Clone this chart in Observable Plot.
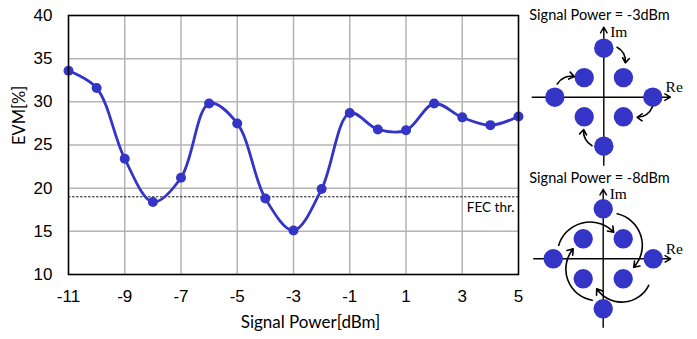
<!DOCTYPE html>
<html><head><meta charset="utf-8">
<script src="https://cdn.jsdelivr.net/npm/d3@7"></script>
<script src="https://cdn.jsdelivr.net/npm/@observablehq/plot@0.6"></script>
<style>
body{margin:0;background:#fff}
#chart{position:relative;width:697px;height:339px;overflow:hidden;background:#fff}
#chart svg{position:absolute}
</style>
</head><body><div id="chart"></div>
<script>
// ---- data ----
const power = [-11,-10,-9,-8,-7,-6,-5,-4,-3,-2,-1,0,1,2,3,4,5];
const evm = [33.6,31.6,23.4,18.4,21.2,29.8,27.5,18.8,15.1,19.9,28.7,26.8,26.7,29.8,28.2,27.3,28.3];
const fecThreshold = 19;
const fecLabel = "FEC thr.";
const xTicks = [-11,-9,-7,-5,-3,-1,1,3,5];
const yTicks = [10,15,20,25,30,35,40];
const xLabel = "Signal Power[dBm]";
const yLabel = "EVM[%]";

// constellation (8 points: 4 outer on axes, 4 inner)
const constRe = [0, 0.4, 1, 0.4, 0, -0.4, -1, -0.4];
const constIm = [1, 0.4, 0, -0.4, -1, -0.4, 0, 0.4];
const title1 = "Signal Power = -3dBm";
const title2 = "Signal Power = -8dBm";
// rotation arrows (from -> to), in constellation units
const arrows1 = [
  {x1:0.27,y1:1.02,x2:0.44,y2:0.70},
  {x1:-0.95,y1:0.27,x2:-0.60,y2:0.42},
  {x1:0.99,y1:-0.20,x2:0.68,y2:-0.41},
  {x1:-0.24,y1:-0.99,x2:-0.41,y2:-0.66}
];
const arrows2 = [
  {x1:0.28,y1:0.90,x2:0.61,y2:-0.17},
  {x1:0.91,y1:-0.53,x2:-0.13,y2:-0.60},
  {x1:-0.22,y1:-0.83,x2:-0.60,y2:0.20},
  {x1:-0.89,y1:0.27,x2:0.21,y2:0.53}
];

const blue = "#3434c6";
const calibri = "Lato, 'Open Sans', sans-serif";
const fmt = d => String(d); // plain hyphen-minus like the original

// ---- main chart ----
const data = power.map((p, i) => ({power: p, evm: evm[i]}));
const main = Plot.plot({
  width: 530, height: 339,
  marginLeft: 68, marginRight: 12, marginTop: 15, marginBottom: 65,
  style: {fontFamily: "'Liberation Sans', Arial, sans-serif", fontSize: "17px", background: "transparent", overflow: "visible", color: "#000"},
  x: {domain: [-11, 5]},
  y: {domain: [10, 40]},
  marks: [
    Plot.gridX(xTicks, {stroke: "#b4b4b4", strokeOpacity: 1, strokeWidth: 1.5}),
    Plot.gridY(yTicks, {stroke: "#b4b4b4", strokeOpacity: 1, strokeWidth: 1.5}),
    Plot.ruleY([fecThreshold], {stroke: "#000", strokeWidth: 0.9, strokeDasharray: "2.5,1.5"}),
    Plot.line(data, {x: "power", y: "evm", curve: "catmull-rom", stroke: blue, strokeWidth: 2.8}),
    Plot.dot(data, {x: "power", y: "evm", r: 5, fill: blue}),
    Plot.frame({stroke: "#000", strokeWidth: 1.5}),
    Plot.axisX(xTicks, {tickSize: 0, tickPadding: 15, label: null, fill: "#000", tickFormat: fmt}),
    Plot.axisY(yTicks, {tickSize: 0, tickPadding: 16, label: null, fill: "#000", tickFormat: fmt}),
    Plot.text([fecLabel], {frameAnchor: "right", y: () => fecThreshold, textAnchor: "end", dx: -4, dy: 11, fontFamily: calibri, fontSize: 13.5, fill: "#000"}),
    Plot.text([yLabel], {frameAnchor: "left", rotate: -90, dx: -49, fontFamily: calibri, fontSize: 16.5, fill: "#000"}),
    Plot.text([xLabel], {frameAnchor: "bottom", lineAnchor: "middle", dx: 17, dy: 48, fontFamily: calibri, fontSize: 17, fill: "#000"})
  ]
});
main.style.left = "0px"; main.style.top = "0px";
document.getElementById("chart").appendChild(main);

// ---- constellation diagrams ----
const points = constRe.map((re, i) => ({re, im: constIm[i]}));
function constellation(title, arrows, bend, top, cx, cy, unit, axes, titleDy) {
  const W = 170, H = 170, left = 527;
  const x0 = cx - left, y0 = cy - top;
  const svg = Plot.plot({
    width: W, height: H, margin: 0,
    x: {domain: [-x0 / unit, (W - x0) / unit]},
    y: {domain: [-(H - y0) / unit, y0 / unit]},
    axis: null,
    style: {background: "transparent", overflow: "visible"},
    marks: [
      Plot.arrow(axes, {x1: "x1", y1: "y1", x2: "x2", y2: "y2", stroke: "#000", strokeWidth: 1.4, headLength: 7}),
      Plot.dot(points, {x: "re", y: "im", r: 9.7, fill: blue}),
      Plot.arrow(arrows, {x1: "x1", y1: "y1", x2: "x2", y2: "y2", bend, stroke: "#000", strokeWidth: 1.6, headLength: 6, headAngle: 70}),
      Plot.text([title], {frameAnchor: "top", lineAnchor: "middle", dy: titleDy, dx: -13, fontFamily: calibri, fontSize: 14.5, fill: "#000"}),
      Plot.text(["Im"], {x: () => 0.13, y: () => axes[1].y2 - 0.1, textAnchor: "start", fontFamily: "'Liberation Serif', serif", fontSize: 15.5, fill: "#000"}),
      Plot.text(["Re"], {x: () => axes[0].x2 - 0.1, y: () => 0.2, textAnchor: "start", fontFamily: "'Liberation Serif', serif", fontSize: 15.5, fill: "#000"})
    ]
  });
  svg.style.left = left + "px"; svg.style.top = top + "px";
  document.getElementById("chart").appendChild(svg);
}
constellation(title1, arrows1, 35, 0, 603.3, 96.7, 49,
  [{x1: -1.46, y1: 0, x2: 1.36, y2: 0}, {x1: 0, y1: -1.39, x2: 0, y2: 1.43}], 15);
constellation(title2, arrows2, 60, 165, 602.7, 258.3, 50,
  [{x1: -1.39, y1: 0, x2: 1.35, y2: 0}, {x1: 0, y1: -1.37, x2: 0, y2: 1.39}], 13);
</script>
</body></html>
